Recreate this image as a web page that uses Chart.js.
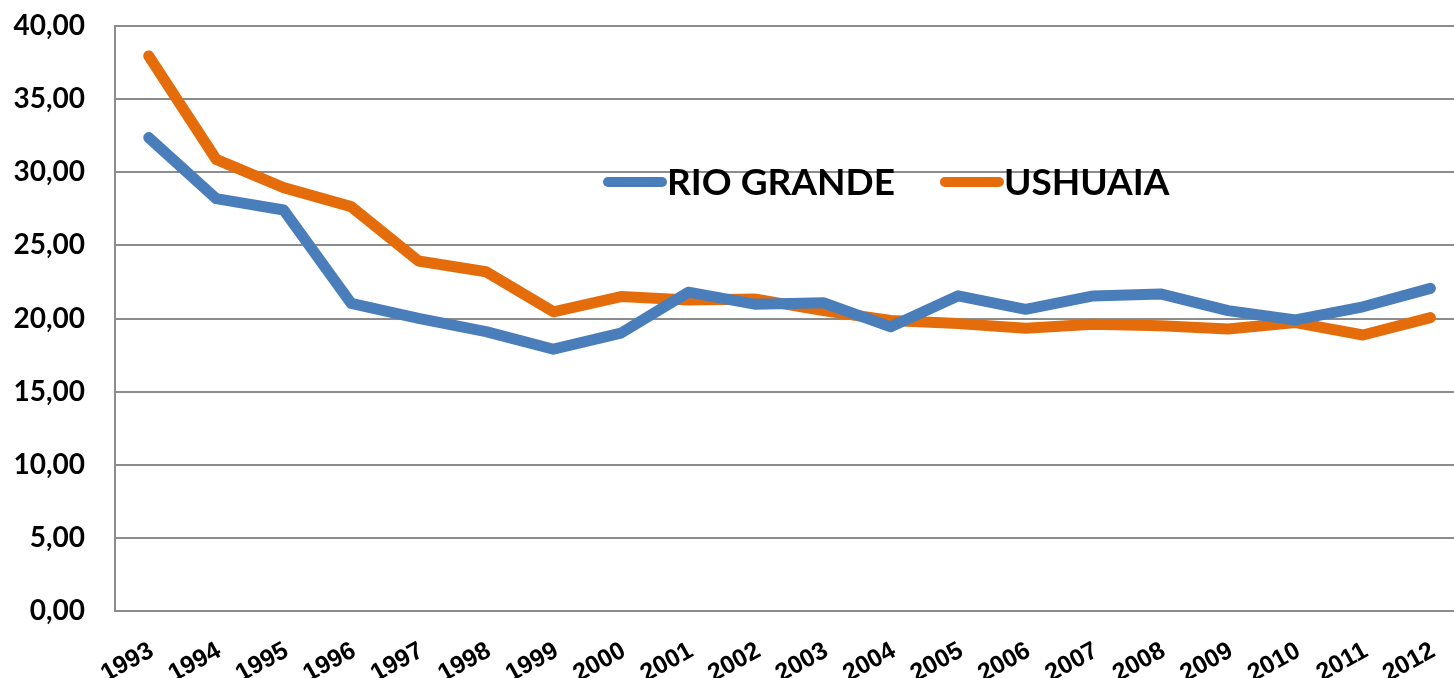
<!DOCTYPE html>
<html>
<head>
<meta charset="utf-8">
<script src="https://cdn.jsdelivr.net/npm/chart.js@4"></script>
<style>
  html, body { margin: 0; padding: 0; background: #fff; overflow: hidden; }
  #wrap { width: 1470px; height: 678px; }
</style>
</head>
<body>
<div id="wrap"><canvas id="chart"></canvas></div>
<script>
const years = ["1993", "1994", "1995", "1996", "1997", "1998", "1999", "2000", "2001", "2002",
  "2003", "2004", "2005", "2006", "2007", "2008", "2009", "2010", "2011", "2012"];
const rioGrande = [32.37, 28.20, 27.42, 21.04, 20.01, 19.10, 17.90, 19.00, 21.80, 20.97,
  21.08, 19.43, 21.55, 20.63, 21.54, 21.68, 20.54, 19.90, 20.80, 22.06];
const ushuaia = [37.95, 30.88, 28.95, 27.65, 23.93, 23.20, 20.46, 21.50, 21.27, 21.33,
  20.54, 19.86, 19.65, 19.33, 19.60, 19.50, 19.28, 19.72, 18.87, 20.06];
const yTicks = { min: 0, max: 40, step: 5 };

const blue = "#4a7ebb";
const orange = "#e46c0a";
const gridGray = "#8c8c8c";

// legend drawn inside the plot, like the original
const legendPlugin = {
  id: "innerLegend",
  afterDraw(chart) {
    const { ctx, chartArea: a } = chart;
    const y = a.top + 156;
    let x = a.left + 493;
    ctx.save();
    ctx.font = "bold 37px Lato";
    ctx.textBaseline = "middle";
    ctx.lineCap = "round";
    ctx.lineWidth = 10;
    chart.data.datasets.forEach(ds => {
      ctx.strokeStyle = ds.borderColor;
      ctx.beginPath();
      ctx.moveTo(x, y);
      ctx.lineTo(x + 54, y);
      ctx.stroke();
      ctx.fillStyle = "#000";
      ctx.fillText(ds.label, x + 59, y + 1);
      x += 59 + ctx.measureText(ds.label).width + 50;
    });
    ctx.restore();
  }
};

new Chart(document.getElementById("chart"), {
  type: "line",
  data: {
    labels: years,
    datasets: [
      { label: "RIO GRANDE", data: rioGrande, borderColor: blue, borderWidth: 11, pointRadius: 0, tension: 0, borderCapStyle: "round", borderJoinStyle: "round" },
      { label: "USHUAIA", data: ushuaia, borderColor: orange, borderWidth: 11, pointRadius: 0, tension: 0, borderCapStyle: "round", borderJoinStyle: "round" }
    ]
  },
  options: {
    responsive: true,
    maintainAspectRatio: false,
    animation: false,
    layout: { padding: { top: 26, left: 8, right: 1, bottom: 0 } },
    plugins: {
      legend: { display: false },
      tooltip: { enabled: false }
    },
    scales: {
      x: {
        offset: true,
        grid: { display: false, drawTicks: false },
        border: { display: true, color: gridGray, width: 2 },
        ticks: {
          color: "#000",
          font: { family: "'Liberation Sans Narrow', 'Arial Narrow', 'Liberation Sans', sans-serif", weight: "bold", size: 25 },
          minRotation: 29,
          maxRotation: 29,
          padding: 25,
          labelOffset: 3,
          autoSkip: false
        },
        afterFit: s => { s.height = 67; }
      },
      y: {
        min: yTicks.min,
        max: yTicks.max,
        grid: { color: gridGray, lineWidth: 2, drawTicks: true, tickLength: 26, tickColor: "rgba(0,0,0,0)" },
        border: { display: true, color: gridGray, width: 2 },
        ticks: {
          stepSize: yTicks.step,
          color: "#000",
          padding: 4,
          font: { family: "Lato", weight: "bold", size: 28 },
          callback: v => v.toFixed(2).replace(".", ",")
        },
        afterFit: s => { s.width = 107; }
      }
    }
  },
  plugins: [legendPlugin]
});
</script>
</body>
</html>
